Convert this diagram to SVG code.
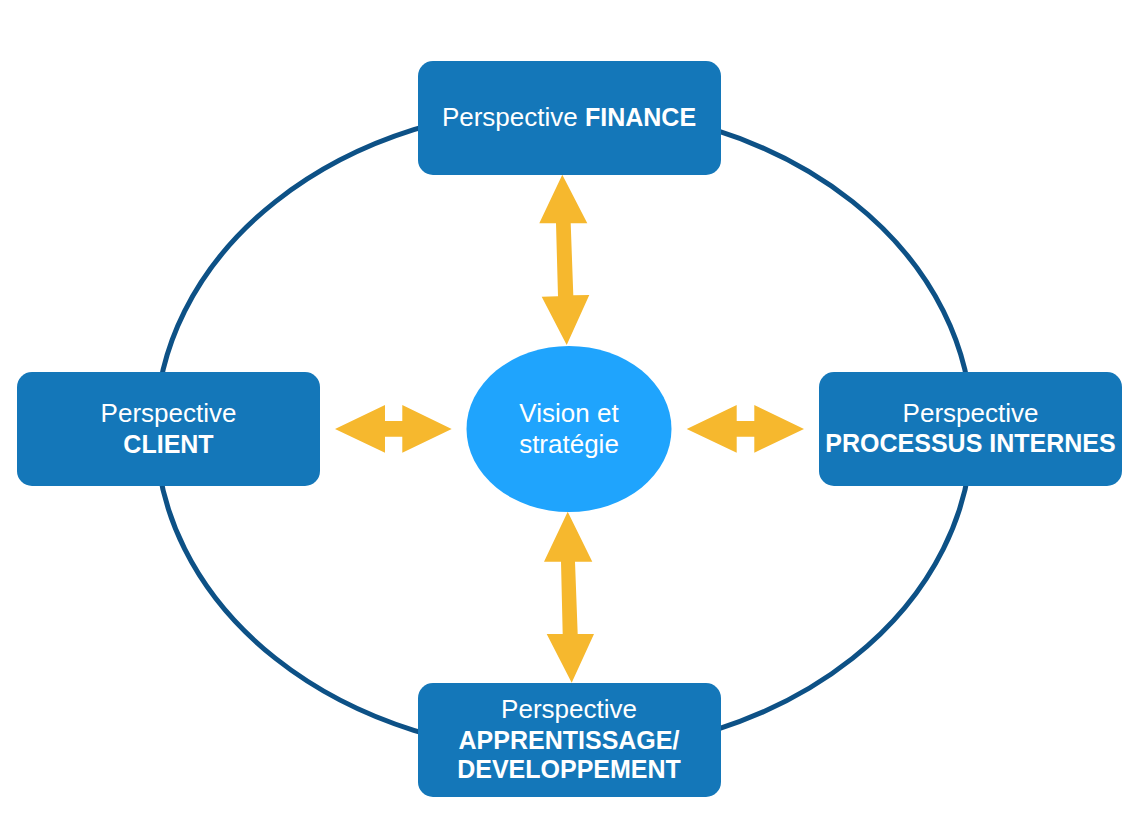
<svg xmlns="http://www.w3.org/2000/svg" width="1148" height="828" viewBox="0 0 1148 828">
<style>
.box{fill:#1477b9}
.t{font-family:"Liberation Sans",Arial,Helvetica,sans-serif;fill:#ffffff;text-anchor:middle}
.r{font-size:26px;font-weight:normal}
.b{font-size:25px;font-weight:bold}
.arrow{fill:#f6b82e}
</style>
<rect width="1148" height="828" fill="#ffffff"/>
<g id="ring">
<ellipse cx="564" cy="430" rx="408" ry="323" fill="none" stroke="#0d5186" stroke-width="5"/>
</g>
<g id="connectors">
<polygon class="arrow" points="562.3,174.7 587.3,223.3 570.7,223.3 573.3,295.3 589.3,295 566.7,345 541.7,296.7 558,296.3 556,223.3 539.3,223.3"/>
<polygon class="arrow" points="567.7,511.7 592.3,561.7 575,561.7 577.7,634 594,634 571.7,682.7 546.7,634 562.7,634 561,561.7 544,561.7"/>
<polygon class="arrow" points="335,429 385,405 385,421 402.3,421 402.3,405 451.7,429 402.3,452.7 402.3,436.7 385,436.7 385,452.7"/>
<polygon class="arrow" points="686.7,429 736.7,405 736.7,421 754.3,421 754.3,405 804,429 754.3,452.7 754.3,436.7 736.7,436.7 736.7,452.7"/>
</g>
<g id="vision">
<ellipse cx="569" cy="429" rx="102.5" ry="83" fill="#1fa4fd"/>
<text class="t r" x="569" y="421.7">Vision et</text>
<text class="t r" x="569" y="452.7">stratégie</text>
</g>
<g id="finance">
<rect class="box" x="418" y="61" width="303" height="114" rx="15"/>
<text class="t" x="569" y="126"><tspan class="r">Perspective </tspan><tspan class="b">FINANCE</tspan></text>
</g>
<g id="client">
<rect class="box" x="17" y="372" width="303" height="114" rx="15"/>
<text class="t r" x="168.5" y="421.7">Perspective</text>
<text class="t b" x="168.5" y="452.7">CLIENT</text>
</g>
<g id="processus">
<rect class="box" x="819" y="372" width="303" height="114" rx="15"/>
<text class="t r" x="970.5" y="421.7">Perspective</text>
<text class="t b" x="970.5" y="451.7">PROCESSUS INTERNES</text>
</g>
<g id="apprentissage">
<rect class="box" x="418" y="683" width="303" height="114" rx="15"/>
<text class="t r" x="569" y="718.3">Perspective</text>
<text class="t b" x="569" y="749.3">APPRENTISSAGE/</text>
<text class="t b" x="569" y="778.3">DEVELOPPEMENT</text>
</g>
</svg>
